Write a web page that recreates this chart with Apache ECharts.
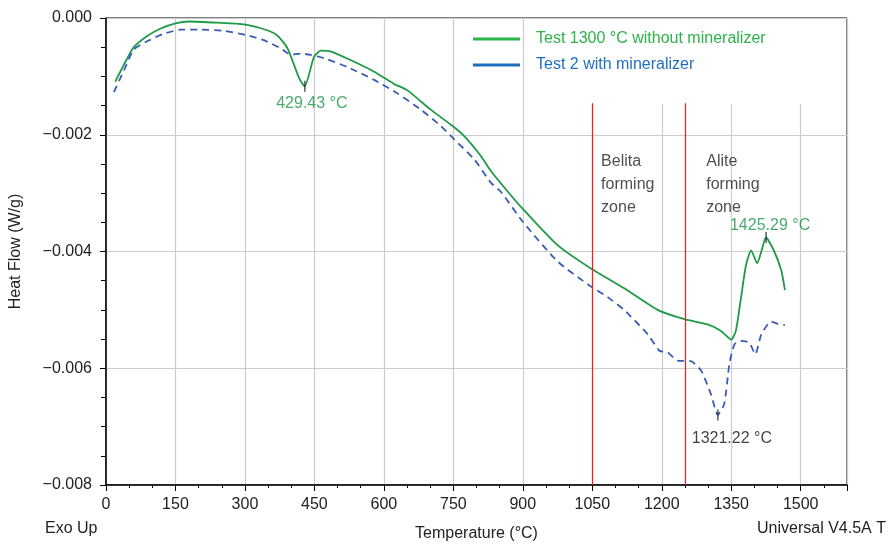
<!DOCTYPE html>
<html>
<head>
<meta charset="utf-8">
<script src="https://cdn.jsdelivr.net/npm/echarts@6/dist/echarts.min.js"></script>
<style>html,body{margin:0;padding:0;background:#fff}#c{width:888px;height:547px}</style>
</head>
<body>
<div id="c"></div>
<script>
// Test 1300 °C without mineralizer (green, solid)
const tempGreen = [20, 46, 60, 89, 118, 150, 179, 240, 298, 348, 370, 392, 417, 429, 449, 464, 485, 528, 579, 622, 651, 701, 745, 773, 809, 831, 881, 900, 975, 1047, 1119, 1191, 1249, 1299, 1328, 1350, 1360, 1371, 1382, 1393, 1406, 1415, 1425, 1443, 1458, 1466];
const hfGreen = [-0.00109, -0.00069, -0.00050, -0.00031, -0.00018, -0.00009, -0.00006, -0.00008, -0.00011, -0.00021, -0.00030, -0.00052, -0.00103, -0.00117, -0.00067, -0.00056, -0.00057, -0.00072, -0.00092, -0.00113, -0.00124, -0.00157, -0.00183, -0.00202, -0.00236, -0.00262, -0.00310, -0.00327, -0.00389, -0.00429, -0.00463, -0.00500, -0.00516, -0.00525, -0.00536, -0.00551, -0.00536, -0.00480, -0.00423, -0.00398, -0.00420, -0.00400, -0.00376, -0.00400, -0.00432, -0.00466];
// Test 2 with mineralizer (blue, dashed)
const tempBlue = [17, 42, 60, 96, 125, 161, 204, 255, 301, 341, 377, 399, 420, 442, 471, 521, 579, 629, 680, 723, 752, 795, 831, 853, 900, 975, 1047, 1083, 1119, 1134, 1170, 1195, 1213, 1234, 1263, 1285, 1306, 1321, 1335, 1346, 1357, 1371, 1389, 1402, 1415, 1436, 1451, 1466];
const hfBlue = [-0.00127, -0.00084, -0.00054, -0.00037, -0.00027, -0.00020, -0.00020, -0.00022, -0.00029, -0.00038, -0.00052, -0.00063, -0.00061, -0.00063, -0.00069, -0.00084, -0.00106, -0.00129, -0.00157, -0.00185, -0.00208, -0.00242, -0.00282, -0.00298, -0.00349, -0.00417, -0.00460, -0.00478, -0.00500, -0.00512, -0.00542, -0.00570, -0.00573, -0.00587, -0.00588, -0.00604, -0.00644, -0.00680, -0.00661, -0.00593, -0.00559, -0.00553, -0.00556, -0.00576, -0.00542, -0.00520, -0.00524, -0.00526];
// X ticks
const xTicks = [0, 150, 300, 450, 600, 750, 900, 1050, 1200, 1350, 1500];
const yTicks = [0, -0.002, -0.004, -0.006, -0.008];
// Peak annotations
const peakTemps = [429.43, 1321.22, 1425.29];
const peakValues = [-0.00117, -0.00680, -0.00376];
const peakLabels = ['429.43 °C', '1321.22 °C', '1425.29 °C'];
// Zone boundaries
const zoneLines = [1050, 1250];
const zoneTop = -0.00146;
const zoneTexts = ['Belita\nforming\nzone', 'Alite\nforming\nzone'];
const zoneTextPos = [[1069, -0.00227], [1296, -0.00227]];

const FONT = "'Liberation Sans', Arial, sans-serif";
const GREEN = '#1f9a48';
const GREEN_TXT = '#1c9646';
const BLUE = '#3a5bb8';
const seriesNames = ['Test 1300 °C without mineralizer', 'Test 2 with mineralizer'];

const chart = echarts.init(document.getElementById('c'), null, {renderer: 'canvas'});
const fmtY = v => {
  if (Math.abs(v) < 1e-12) return '0.000';
  return (v < 0 ? '\u2212' : '') + Math.abs(v).toFixed(3);
};

chart.setOption({
  animation: false,
  backgroundColor: '#fff',
  textStyle: {fontFamily: FONT},
  grid: {left: 105, right: 41, top: 18, bottom: 58, show: true, borderColor: '#000', borderWidth: 1, backgroundColor: 'transparent'},
  legend: {
    orient: 'vertical', left: 468, top: 26, itemWidth: 47, itemHeight: 3, itemGap: 10,
    icon: 'rect', selectedMode: false,
    textStyle: {fontSize: 16, fontFamily: FONT, lineHeight: 16, padding: [0, 0, 0, 11]},
    data: [
      {name: seriesNames[0], itemStyle: {color: '#2db34a'}, textStyle: {color: '#2db34a'}},
      {name: seriesNames[1], itemStyle: {color: '#1f6fbf'}, textStyle: {color: '#1f6fbf'}}
    ]
  },
  xAxis: {
    type: 'value', min: 0, max: 1600, interval: 150,
    name: 'Temperature (°C)', nameLocation: 'middle', nameGap: 41,
    nameTextStyle: {fontSize: 16, color: '#222', fontFamily: FONT},
    axisLine: {onZero: false, lineStyle: {color: '#000', width: 1.5}},
    axisTick: {show: true, length: 6, lineStyle: {color: '#000', width: 1}},
    minorTick: {show: true, splitNumber: 3, length: 3, lineStyle: {color: '#000'}},
    axisLabel: {fontSize: 16, color: '#222', margin: 12, showMaxLabel: false, fontFamily: FONT,
      formatter: v => xTicks.includes(v) ? String(v) : ''},
    splitLine: {show: true, lineStyle: {color: '#cccccc', width: 1.2}}
  },
  yAxis: {
    type: 'value', min: -0.008, max: 0, interval: 0.002,
    name: 'Heat Flow (W/g)', nameLocation: 'middle', nameGap: 82,
    nameTextStyle: {fontSize: 16, color: '#222', fontFamily: FONT},
    axisLine: {onZero: false, lineStyle: {color: '#000', width: 1.5}},
    axisTick: {show: true, length: 6, lineStyle: {color: '#000', width: 1}},
    minorTick: {show: true, splitNumber: 4, length: 5, lineStyle: {color: '#000'}},
    axisLabel: {fontSize: 16, color: '#222', margin: 14, fontFamily: FONT,
      formatter: v => yTicks.some(t => Math.abs(t - v) < 1e-9) ? fmtY(v) : ''},
    splitLine: {show: true, lineStyle: {color: '#cccccc', width: 1.2}}
  },
  graphic: [
    {type: 'rect', z: 1, shape: {x: 526, y: 19, width: 320, height: 85}, style: {fill: '#fff'}, silent: true},
    {type: 'text', left: 45, top: 521, style: {text: 'Exo Up', font: '16px ' + FONT, fill: '#222'}},
    {type: 'text', right: 2, top: 521, style: {text: 'Universal V4.5A T', font: '16px ' + FONT, fill: '#222'}}
  ],
  series: [
    {
      name: seriesNames[0], type: 'line', showSymbol: false, smooth: 0.2, z: 3,
      color: GREEN,
      lineStyle: {color: GREEN, width: 1.8},
      data: tempGreen.map((t, i) => [t, hfGreen[i]])
    },
    {
      name: seriesNames[1], type: 'line', showSymbol: false, smooth: 0.2, z: 3,
      color: BLUE,
      lineStyle: {color: BLUE, width: 1.8, type: [7, 5]},
      data: tempBlue.map((t, i) => [t, hfBlue[i]]),
      markLine: {
        silent: true, symbol: 'none', animation: false,
        lineStyle: {color: '#ff1a1a', width: 1.2, type: 'solid'},
        label: {show: false},
        data: zoneLines.map(x => [{coord: [x, -0.008]}, {coord: [x, zoneTop]}])
      }
    },
    {
      name: 'peaks', type: 'scatter', z: 4, symbol: 'rect', symbolSize: [1.3, 11],
      itemStyle: {color: '#111'},
      data: peakTemps.map((t, i) => {
        const cfg = [
          {position: 'bottom', distance: 4, offset: [7, 0], color: GREEN_TXT},
          {position: 'bottom', distance: 10, offset: [14, 0], color: '#111'},
          {position: 'top', distance: -2, offset: [4, 0], color: GREEN_TXT}
        ][i];
        return {value: [t, peakValues[i]], label: {show: true, formatter: peakLabels[i], position: cfg.position, distance: cfg.distance, offset: cfg.offset, color: cfg.color, fontSize: 16, fontFamily: FONT}};
      })
    },
    {
      name: 'zones', type: 'scatter', z: 4, symbolSize: 0, itemStyle: {color: 'transparent'},
      data: zoneTextPos.map((p, i) => ({value: p, label: {show: true, formatter: zoneTexts[i], position: [0, 0], align: 'left', verticalAlign: 'top', color: '#222', fontSize: 16, lineHeight: 23, fontFamily: FONT}}))
    }
  ]
});
</script>
</body>
</html>
